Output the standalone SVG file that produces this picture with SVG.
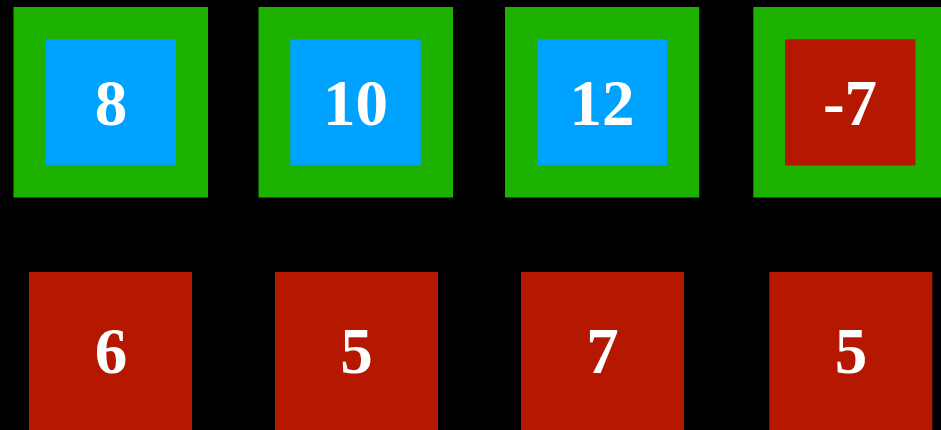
<svg xmlns="http://www.w3.org/2000/svg" width="941" height="430" viewBox="0 0 941 430">
<style>
.frame{fill:#1db100}
.blue{fill:#00a2ff}
.red{fill:#b51700}
.lbl{font-family:"Liberation Serif","Times New Roman",serif;font-weight:bold;font-size:65px;fill:#ffffff;text-anchor:middle}
</style>
<rect x="0" y="0" width="941" height="430" fill="#000000"/>
<g id="top1"><rect class="frame" x="13.5" y="7" width="194.5" height="190.5"/><rect class="blue" x="45.7" y="39.3" width="130.3" height="126.2"/><text class="lbl" x="111" y="125">8</text></g>
<g id="top2"><rect class="frame" x="258.5" y="7" width="194.5" height="190.5"/><rect class="blue" x="290.3" y="39.3" width="130.5" height="126.2"/><text class="lbl" x="355.5" y="125">10</text></g>
<g id="top3"><rect class="frame" x="505" y="7" width="194.2" height="190.5"/><rect class="blue" x="537.3" y="39.3" width="130" height="126.2"/><text class="lbl" x="602" y="125">12</text></g>
<g id="top4"><rect class="frame" x="753.3" y="7" width="194.5" height="190.5"/><rect class="red" x="785" y="39.3" width="130.5" height="126.2"/><text class="lbl" x="850" y="125">-7</text></g>
<g id="bot1"><rect class="red" x="29" y="272" width="163" height="160"/><text class="lbl" x="111" y="372.5">6</text></g>
<g id="bot2"><rect class="red" x="275" y="272" width="163" height="160"/><text class="lbl" x="356.5" y="372.5">5</text></g>
<g id="bot3"><rect class="red" x="521" y="272" width="163" height="160"/><text class="lbl" x="602.5" y="372.5">7</text></g>
<g id="bot4"><rect class="red" x="769.3" y="272" width="163" height="160"/><text class="lbl" x="851" y="372.5">5</text></g>
<g id="connectors"></g>
</svg>
